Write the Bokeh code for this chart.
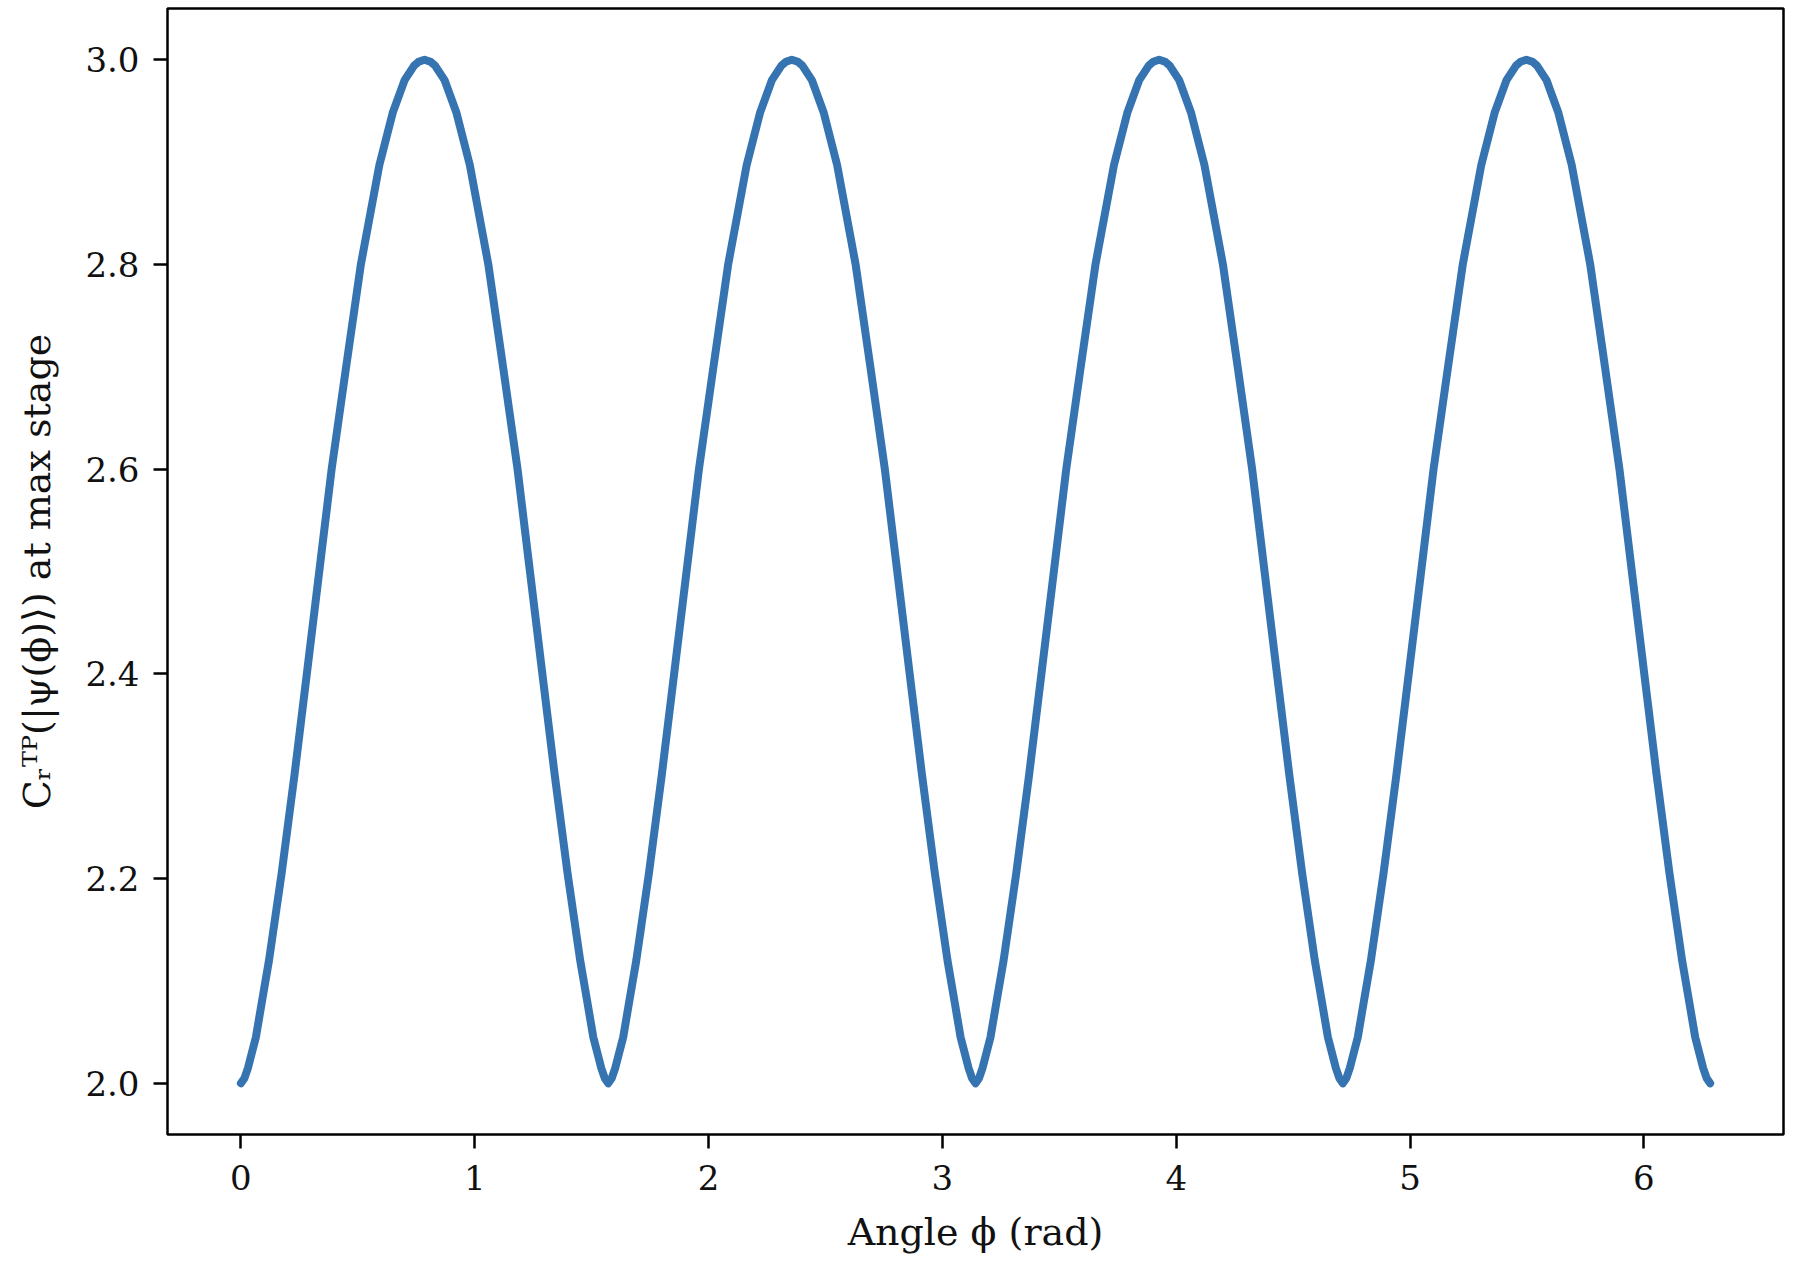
from bokeh.plotting import figure
from bokeh.models import Range1d, FixedTicker
from bokeh.embed import file_html
from bokeh.resources import INLINE

# One period of the curve:
# angle offset within the period (rad) and C_r^TP value at max stage
hump_offsets = [
    0.000, 0.015, 0.030, 0.064, 0.090, 0.120, 0.174, 0.230, 0.284, 0.336,
    0.388, 0.450, 0.513, 0.592, 0.649, 0.700, 0.740, 0.760, 0.785, 0.811,
    0.831, 0.871, 0.922, 0.979, 1.058, 1.121, 1.183, 1.235, 1.287, 1.341,
    1.397, 1.451, 1.481, 1.507, 1.541, 1.556,
]
hump_values = [
    2.000, 2.005, 2.015, 2.045, 2.080, 2.120, 2.205, 2.303, 2.404, 2.502,
    2.600, 2.700, 2.800, 2.897, 2.948, 2.980, 2.994, 2.998, 3.000, 2.998,
    2.994, 2.980, 2.948, 2.897, 2.800, 2.700, 2.600, 2.502, 2.404, 2.303,
    2.205, 2.120, 2.080, 2.045, 2.015, 2.005,
]
# the picture shows four identical periods starting at these angles
hump_starts = [0.0, 1.5708, 3.1416, 4.7124]
end_phi = 6.2832
end_value = 2.000

x_ticks = [0, 1, 2, 3, 4, 5, 6]
y_ticks = [2.0, 2.2, 2.4, 2.6, 2.8, 3.0]
y_tick_labels = {2.0: "2.0", 2.2: "2.2", 2.4: "2.4", 2.6: "2.6", 2.8: "2.8", 3.0: "3.0"}

phi = [s + o for s in hump_starts for o in hump_offsets] + [end_phi]
c_tp = [v for s in hump_starts for v in hump_values] + [end_value]

FONT = "DejaVu Serif"

p = figure(width=1794, height=1268, output_backend="svg", toolbar_location=None,
           x_range=Range1d(-0.314, 6.597), y_range=Range1d(1.95, 3.05),
           min_border_left=167, min_border_right=11, min_border_top=8,
           min_border_bottom=134)

p.line(phi, c_tp, line_color="#3674b1", line_width=8, line_join="round", line_cap="round")

p.xgrid.visible = False
p.ygrid.visible = False
p.outline_line_color = "black"
p.outline_line_width = 2.5
p.outline_line_alpha = 1.0
p.background_fill_color = "white"
p.border_fill_color = "white"

for ax in (p.xaxis[0], p.yaxis[0]):
    ax.axis_line_color = None
    ax.major_tick_line_color = "black"
    ax.major_tick_line_width = 2.5
    ax.major_tick_out = 14
    ax.major_tick_in = 0
    ax.minor_tick_line_color = None
    ax.major_label_text_font = FONT
    ax.major_label_text_font_size = "34px"
    ax.major_label_text_color = "#111111"
    ax.axis_label_text_font = FONT
    ax.axis_label_text_font_size = "38px"
    ax.axis_label_text_font_style = "normal"
    ax.axis_label_text_color = "#111111"

p.xaxis.ticker = FixedTicker(ticks=x_ticks)
p.yaxis.ticker = FixedTicker(ticks=y_ticks)
p.yaxis.major_label_overrides = y_tick_labels
p.xaxis.major_label_standoff = 16
p.yaxis.major_label_standoff = 14
p.xaxis.axis_label = "Angle ϕ (rad)"
p.yaxis.axis_label = "Cᵣᵀᴾ(|ψ(ϕ)⟩) at max stage"
p.xaxis.axis_label_standoff = 17
p.yaxis.axis_label_standoff = 23

open("out.html", "w").write(file_html(p, INLINE))
